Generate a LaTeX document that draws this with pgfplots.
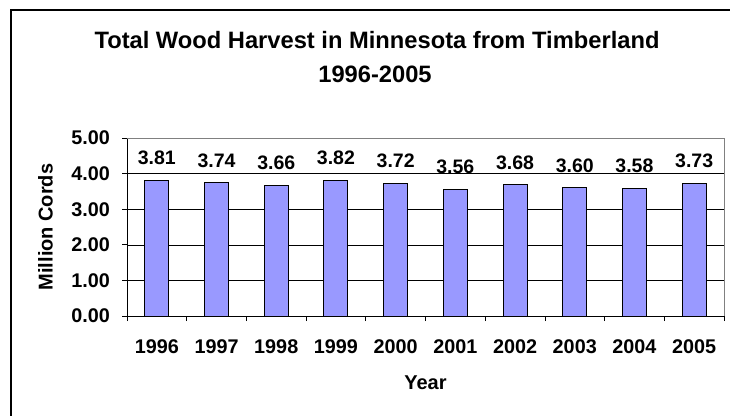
\documentclass[border=0pt]{standalone}
\usepackage{pgfplots}
\pgfplotsset{compat=1.18}
\usepackage{fontspec}
\setmainfont{Liberation Sans}
\definecolor{barblue}{HTML}{9999FF}
\definecolor{framegray}{HTML}{808080}
\begin{document}
\begin{tikzpicture}[x=1pt,y=1pt]
\useasboundingbox (0,0) rectangle (730,415);
\draw[line width=1.2pt] (11,-20) rectangle (760,405);
\node[font=\fontsize{23.7}{28}\selectfont\bfseries] at (377,375) {Total Wood Harvest in Minnesota from Timberland};
\node[font=\fontsize{23.7}{28}\selectfont\bfseries] at (375,340.5) {1996-2005};
\begin{axis}[at={(127pt,99pt)}, anchor=south west, scale only axis,
  width=597pt, height=178pt,
  xmin=-0.5, xmax=9.5, ymin=0, ymax=5,
  xtick={0,1,2,3,4,5,6,7,8,9},
  xticklabels={1996,1997,1998,1999,2000,2001,2002,2003,2004,2005},
  minor xtick={-0.5,0.5,1.5,2.5,3.5,4.5,5.5,6.5,7.5,8.5,9.5},
  ytick={0,1,2,3,4,5},
  ymajorgrids, grid style={black, line width=0.6pt},
  major x tick style={draw=none},
  tick align=outside, major tick length=5pt, minor tick length=5pt,
  axis x line*=bottom, axis y line*=left,
  axis line style={black, line width=0.8pt, -},
  tick style={black, line width=0.8pt},
  /pgf/number format/assume math mode=true,
  yticklabel style={/pgf/number format/.cd, fixed, fixed zerofill, precision=2, /tikz/.cd,
    anchor=east, inner sep=0pt, xshift=-12pt},
  xticklabel style={anchor=center, inner sep=0pt, yshift=-25.5pt},
  tick label style={font=\fontsize{19.8}{20}\selectfont\bfseries},
  xlabel={Year}, ylabel={Million Cords},
  every axis x label/.style={at={(rel axis cs:0.5,0)}, anchor=center, yshift=-66.5pt, font=\fontsize{20}{22}\selectfont\bfseries, inner sep=0pt},
  every axis y label/.style={at={(axis description cs:-0.1365,0.5)}, anchor=center, rotate=90, font=\fontsize{20}{22}\selectfont\bfseries, inner sep=0pt},
  clip=false,
]
\addplot[ybar, bar width=24pt, fill=barblue, draw=black, line width=1pt,
  point meta=y,
  nodes near coords={\pgfmathprintnumber[fixed,fixed zerofill,precision=2]{\pgfplotspointmeta}},
  nodes near coords style={anchor=south, inner sep=0pt, yshift=15pt, font=\fontsize{19.5}{20}\selectfont\bfseries, black}]
coordinates {(0,3.81) (1,3.74) (2,3.66) (3,3.82) (4,3.72) (5,3.56) (6,3.68) (7,3.60) (8,3.58) (9,3.73)};
\draw[framegray, line width=0.8pt] (rel axis cs:0,1) -- (rel axis cs:1,1) -- (rel axis cs:1,0);
\end{axis}
\end{tikzpicture}
\end{document}
